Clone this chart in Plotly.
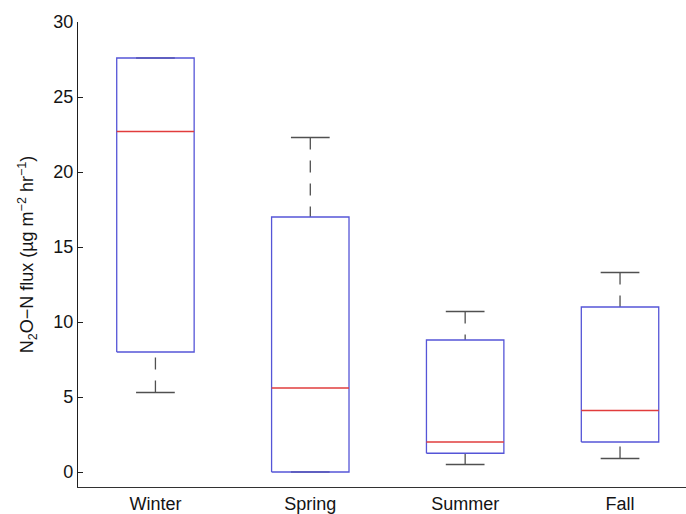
import plotly.graph_objects as go

# Seasonal N2O-N flux box statistics
seasons = ["Winter", "Spring", "Summer", "Fall"]
lower_whisker = [5.3, 0.0, 0.5, 0.9]
q1 = [8.0, 0.0, 1.25, 2.0]
median = [22.7, 5.6, 2.0, 4.1]
q3 = [27.6, 17.0, 8.8, 11.0]
upper_whisker = [27.6, 22.3, 10.7, 13.3]

y_ticks = [0, 5, 10, 15, 20, 25, 30]

BOX_HALF = 0.25
CAP_HALF = 0.125

box_x, box_y = [], []
med_x, med_y = [], []
wh_x, wh_y = [], []
cap_x, cap_y = [], []
for i, _ in enumerate(seasons):
    c = i + 1
    box_x += [c - BOX_HALF, c + BOX_HALF, c + BOX_HALF, c - BOX_HALF, c - BOX_HALF, None]
    box_y += [q1[i], q1[i], q3[i], q3[i], q1[i], None]
    med_x += [c - BOX_HALF, c + BOX_HALF, None]
    med_y += [median[i], median[i], None]
    wh_x += [c, c, None, c, c, None]
    wh_y += [upper_whisker[i], q3[i], None, lower_whisker[i], q1[i], None]
    cap_x += [c - CAP_HALF, c + CAP_HALF, None, c - CAP_HALF, c + CAP_HALF, None]
    cap_y += [upper_whisker[i], upper_whisker[i], None, lower_whisker[i], lower_whisker[i], None]

fig = go.Figure()
fig.add_trace(go.Scatter(x=wh_x, y=wh_y, mode="lines",
                         line=dict(color="rgb(80,80,80)", width=1.3, dash="12px,11px"),
                         hoverinfo="skip"))
fig.add_trace(go.Scatter(x=cap_x, y=cap_y, mode="lines",
                         line=dict(color="rgb(80,80,80)", width=1.3),
                         hoverinfo="skip"))
fig.add_trace(go.Scatter(x=box_x, y=box_y, mode="lines",
                         line=dict(color="rgb(85,85,215)", width=1.3),
                         hoverinfo="skip"))
fig.add_trace(go.Scatter(x=med_x, y=med_y, mode="lines",
                         line=dict(color="rgb(225,60,60)", width=1.3),
                         hoverinfo="skip"))

fig.update_layout(
    width=686, height=514,
    margin=dict(l=78, r=0, t=22, b=27),
    paper_bgcolor="white", plot_bgcolor="white",
    showlegend=False,
    font=dict(family="Liberation Sans, Arial, sans-serif", size=18, color="black"),
    xaxis=dict(
        range=[0.5, 4.426],
        tickmode="array", tickvals=[1, 2, 3, 4], ticktext=seasons,
        ticks="", showgrid=False, zeroline=False,
        showline=True, linecolor="rgb(50,50,50)", linewidth=1.2,
        tickfont=dict(size=18, color="rgb(20,20,20)"),
    ),
    yaxis=dict(
        range=[-1, 30],
        tickmode="array", tickvals=y_ticks,
        ticks="inside", ticklen=5, tickcolor="rgb(30,30,30)",
        showgrid=False, zeroline=False,
        showline=True, linecolor="rgb(30,30,30)", linewidth=1.2,
        tickfont=dict(size=18, color="rgb(20,20,20)"),
        title=dict(text="N<sub>2</sub>O\u2212N flux (\u00b5g m<sup>\u22122</sup> hr<sup>\u22121</sup>)",
                   font=dict(size=18, color="rgb(20,20,20)"), standoff=14),
    ),
)

fig.write_html("out.html")
